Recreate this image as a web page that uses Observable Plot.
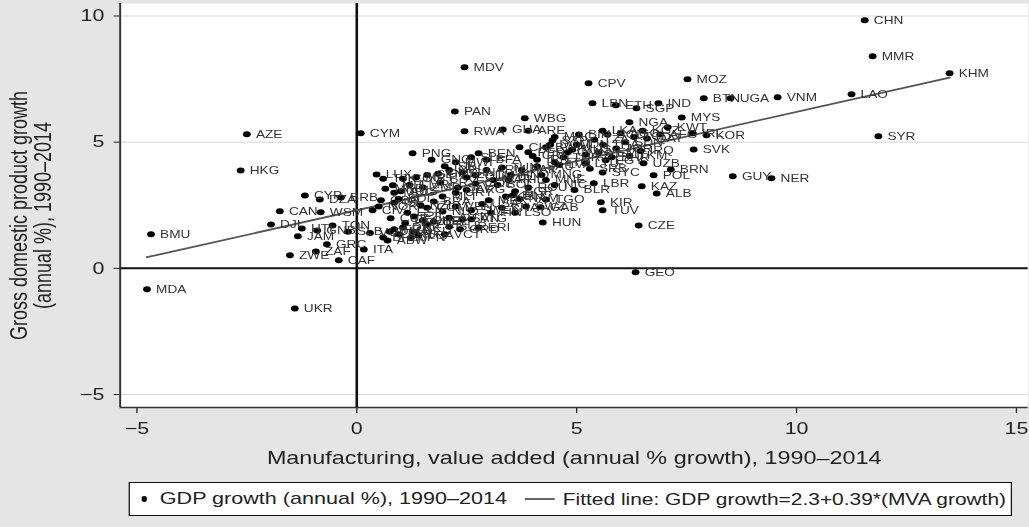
<!DOCTYPE html>
<html><head><meta charset="utf-8">
<script src="https://cdn.jsdelivr.net/npm/d3@7"></script>
<script src="https://cdn.jsdelivr.net/npm/@observablehq/plot@0.6"></script>
<style>
html,body{margin:0;padding:0;background:#e5e5e5;overflow:hidden}
#wrap{position:relative;width:792px;height:527px;transform:scaleX(1.2992);transform-origin:0 0;font-family:"Liberation Sans",Arial,Helvetica,sans-serif}
#wrap svg{display:block}
#legend{position:absolute;left:98.5px;top:482px;width:680px;height:34px;box-sizing:border-box;border:1px solid #111;background:#fff;display:flex;align-items:center;font-size:16.6px;color:#222;white-space:nowrap}
#legend span{flex:0 0 auto}
#legend .ldot{display:inline-block;width:4.5px;height:5.5px;border-radius:50%;background:#000;margin-left:9px;margin-right:10px}
#legend .lline{display:inline-block;width:23px;height:2px;background:#666;margin-left:14px;margin-right:6px}
#legend .t2{font-size:16.1px}
</style></head><body><div id="wrap"></div>
<script>
// Country codes, manufacturing value added growth (x) and GDP growth (y), 1990–2014
const codes = ["CHN","MMR","KHM","MOZ","BTN","UGA","VNM","LAO","SYR","KOR","IRL","SVK","GUY","NER","MYS","KWT","NGA","LBN","ETH","SGP","IND","CPV","MDV","PAN","WBG","RWA","GHA","ARE","STP","CYM","AZE","HKG","BMU","MDA","UKR","GEO","CZE","HUN","TUV","KIR","ALB","KAZ","POL","BRN","UZB","SYC","LBR","EGY","BLR","NIC","TGO","KEN","GAB","PNG","BEN","MWI","CUB","CAN","DJI","CYP","WSM","TON","GRC","ZWE","ZAF","CAF","ITA","CIV","JAM","HTI","DZA","BRB","LUX","MLI",
"JPN","DEU","FRA","PRT","DNK","BHS","DMA","PRI","ERI","SVN","AUT","BEL","NLD","CHE","ESP","GBR","NOR","ISL","NZL","SWE","FIN","USA","MLT","BRA","URY","ARG","MEX","VEN","HRV","ABW","LCA","VCT","GRD","ATG","KNA","BLZ","FJI","SUR","LSO","SWZ","NAM","SLB","VUT","GNB","AUS",
"GTM","MAR","HND","TUN","PAK","BOL","COL","PHL","SEN","IRN","CRI","PER","CHL","DOM","ECU","PRY","NPL","SLV","CMR","COG","MDG","ZMB","GIN","BFA","SLE","GMB","MRT","BDI","ISR","TTO","ROU","BGR","MKD","ARM","MNG","TJK","GNQ","COM","MNE",
"IDN","THA","BGD","TZA","TUR","SDN","TCD","AGO","JOR","OMN","QAT","EST","LVA","LTU","MUS","BWA","YEM","IRQ","KGZ","LKA","SAU","BHR","TKM","MAC","SRB","AFG","BIH"];
const mva = [11.55,11.73,13.48,7.52,7.89,8.5,9.57,11.25,11.86,7.95,7.64,7.66,8.55,9.43,7.39,7.07,6.2,5.36,5.89,6.36,6.86,5.27,2.45,2.23,3.82,2.45,3.32,3.9,4.45,0.09,-2.5,-2.64,-4.68,-4.77,-1.41,6.34,6.41,4.23,5.59,5.55,6.82,6.48,6.75,7.14,6.52,5.59,5.39,5.66,4.95,4.5,4.3,3.39,4.18,1.27,2.77,2.25,0.77,-1.75,-1.95,-1.18,-0.82,-0.55,-0.68,-1.52,-0.93,-0.41,0.16,0.36,-1.34,-1.25,-0.84,-0.36,0.45,0.82,
1.23,1.3,0.85,0.95,1.05,0.6,0.75,1.6,2.77,2.4,2.1,1.75,1.95,1.5,1.15,0.55,0.5,0.85,1.45,2.6,3.05,2.85,1.95,1.75,2.25,2.5,3.0,2.25,1.1,0.7,1.4,2.0,2.35,2.6,3.3,3.55,1.3,2.1,3.6,3.85,3.7,-0.2,0.3,-0.9,1.0,
2.7,3.1,3.5,3.3,3.75,3.2,2.7,3.45,1.6,4.1,4.0,3.9,3.7,4.4,2.5,1.9,2.1,2.3,1.2,1.05,0.85,1.5,2.4,2.95,2.6,1.85,1.35,0.95,2.0,4.5,3.9,3.6,0.65,2.95,4.2,0.6,1.7,1.6,4.3,
5.0,5.6,5.7,5.4,4.7,6.1,6.3,6.0,5.9,4.8,6.6,5.2,4.6,5.2,4.9,4.3,5.5,6.45,6.5,5.59,4.1,5.8,6.2,4.5,5.3,6.9,5.05];
const gdp = [9.83,8.4,7.73,7.49,6.74,6.74,6.78,6.9,5.23,5.27,5.35,4.71,3.65,3.57,5.98,5.59,5.79,6.54,6.46,6.34,6.54,7.33,7.97,6.22,5.95,5.43,5.5,5.45,5.07,5.35,5.31,3.88,1.35,-0.83,-1.59,-0.16,1.7,1.82,2.3,2.62,2.97,3.25,3.69,3.92,4.16,3.8,3.37,4.28,3.1,3.3,2.73,2.85,2.42,4.56,4.56,4.2,1.98,2.26,1.74,2.89,2.22,1.7,0.95,0.52,0.67,0.32,0.75,2.3,1.27,1.58,2.73,2.81,3.72,3.29,
1.2,1.45,1.55,1.35,1.62,1.22,1.45,1.75,1.62,1.95,2.0,1.85,2.25,1.9,2.2,2.7,2.45,2.6,2.5,2.3,2.2,2.55,2.85,2.65,3.0,3.1,2.7,2.45,1.8,1.1,1.3,1.35,1.55,1.95,2.4,2.9,2.05,1.65,2.2,2.45,2.75,1.45,1.4,1.5,3.05,
3.69,3.5,3.7,4.0,3.9,3.3,3.35,3.5,3.7,4.3,4.45,4.6,4.8,4.9,3.6,3.4,3.9,3.2,3.3,3.55,3.0,3.2,3.8,4.3,4.4,3.75,3.6,2.75,4.05,4.2,3.2,3.05,3.15,3.9,3.7,3.55,4.3,2.4,3.5,
4.9,4.9,5.3,5.1,4.4,5.0,5.2,5.35,4.75,4.6,5.15,4.5,4.1,4.15,4.7,4.8,4.6,4.65,5.45,5.45,4.05,4.4,4.45,5.2,3.95,5.3,5.3];
const xTicks = [-5, 0, 5, 10, 15];
const yTicks = [-5, 0, 5, 10];
const fitIntercept = 2.3, fitSlope = 0.39;
const xTitle = "Manufacturing, value added (annual % growth), 1990–2014";
const yTitle = "Gross domestic product growth\n(annual %), 1990–2014";
const legendItems = ["GDP growth (annual %), 1990–2014", "Fitted line: GDP growth=2.3+0.39*(MVA growth)"];

const data = codes.map((c, i) => ({code: c, x: mva[i], y: gdp[i]}));
const xDom = [-5.38, 15.27], yDom = [-5.515, 10.495];
const fit = [d3.min(mva), d3.max(mva)].map(x => ({x, y: fitIntercept + fitSlope * x}));
const fmt = d => d < 0 ? "\u2212" + Math.abs(d) : String(d);

const chart = Plot.plot({
  width: 792, height: 478,
  marginLeft: 92, marginRight: 1, marginTop: 3, marginBottom: 71,
  style: {background: "transparent", fontFamily: "'Liberation Sans', Arial, Helvetica, sans-serif", fontSize: "16.5px", color: "#222"},
  x: {domain: xDom, ticks: xTicks, tickSize: 6, tickPadding: 9, tickFormat: fmt, label: null},
  y: {domain: yDom, ticks: yTicks, tickSize: 4.6, tickPadding: 7.5, tickFormat: fmt, label: null},
  marks: [
    Plot.frame({fill: "#fff", stroke: "none"}),
    Plot.ruleY(yTicks.filter(v => v !== 0), {stroke: "#d8d8d8", strokeWidth: 1}),
    Plot.ruleX([0], {stroke: "#111", strokeWidth: 2}),
    Plot.ruleY([0], {stroke: "#111", strokeWidth: 2}),
    Plot.ruleX([xDom[0]], {stroke: "#333", strokeWidth: 1.5}),
    Plot.ruleY([yDom[0]], {stroke: "#333", strokeWidth: 1.5}),
    Plot.line(fit, {x: "x", y: "y", stroke: "#555", strokeWidth: 1.8}),
    Plot.dot(data, {x: "x", y: "y", r: 3, fill: "#000", stroke: "none"}),
    Plot.text(data, {x: "x", y: "y", text: "code", dx: 7, textAnchor: "start", fontSize: 10.5, fill: "#333"}),
    Plot.text([xTitle], {text: d => d, frameAnchor: "bottom", dy: 56, fontSize: 18, fill: "#222"}),
    Plot.text([yTitle], {text: d => d, frameAnchor: "left", textAnchor: "middle", lineAnchor: "middle", dx: -68.5, dy: 10, rotate: -90, fontSize: 18, lineHeight: 1.05, fill: "#222"})
  ]
});
const wrap = document.getElementById("wrap");
wrap.appendChild(chart);
const lg = document.createElement("div");
lg.id = "legend";
lg.innerHTML = `<span class="ldot"></span><span>${legendItems[0]}</span><span class="lline"></span><span class="t2">${legendItems[1]}</span>`;
wrap.appendChild(lg);
</script>
</body></html>
